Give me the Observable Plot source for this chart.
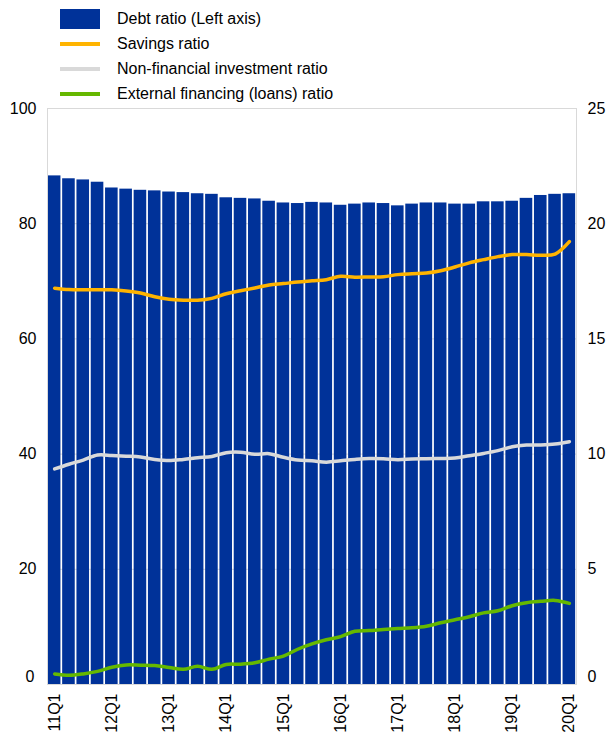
<!DOCTYPE html>
<html>
<head>
<meta charset="utf-8">
<script src="https://cdn.jsdelivr.net/npm/d3@7"></script>
<script src="https://cdn.jsdelivr.net/npm/@observablehq/plot@0.6"></script>
<style>
  body { margin: 0; background: #fff; font-family: "Liberation Sans", Arial, sans-serif; }
  #legend { position: relative; height: 100px; width: 609px; }
  .item { position: absolute; left: 0; height: 24px; width: 609px; }
  .sw { position: absolute; left: 60px; }
  .lab { position: absolute; left: 117px; font-size: 16px; color: #000; line-height: 20px; }
  svg { overflow: visible; }
</style>
</head>
<body>
<div id="legend"></div>
<div id="chart"></div>
<script>
const quarters = ["11Q1","11Q2","11Q3","11Q4","12Q1","12Q2","12Q3","12Q4","13Q1","13Q2","13Q3","13Q4",
  "14Q1","14Q2","14Q3","14Q4","15Q1","15Q2","15Q3","15Q4","16Q1","16Q2","16Q3","16Q4",
  "17Q1","17Q2","17Q3","17Q4","18Q1","18Q2","18Q3","18Q4","19Q1","19Q2","19Q3","19Q4","20Q1"];
const tickLabels = ["11Q1","12Q1","13Q1","14Q1","15Q1","16Q1","17Q1","18Q1","19Q1","20Q1"];

// Left axis (%)
const debtRatio = [88.3,87.8,87.6,87.2,86.2,86.0,85.8,85.7,85.5,85.4,85.2,85.1,84.5,84.4,84.3,83.9,83.6,83.5,83.7,83.6,
  83.2,83.4,83.6,83.5,83.1,83.4,83.6,83.6,83.4,83.4,83.8,83.8,83.9,84.4,84.9,85.1,85.2];
// Right axis (%)
const savingsRatio = [17.2,17.14,17.13,17.13,17.13,17.08,16.99,16.83,16.72,16.68,16.68,16.76,16.96,17.09,17.21,17.34,17.4,17.47,17.52,17.57,
  17.72,17.68,17.69,17.7,17.79,17.83,17.86,17.96,18.12,18.3,18.44,18.57,18.66,18.66,18.63,18.68,19.22];
const nonFinInvRatio = [9.36,9.56,9.74,9.96,9.94,9.91,9.87,9.77,9.72,9.77,9.84,9.9,10.06,10.08,9.99,10.02,9.86,9.74,9.71,9.65,
  9.71,9.77,9.81,9.8,9.76,9.79,9.8,9.81,9.83,9.93,10.03,10.15,10.32,10.39,10.4,10.44,10.54];
const extFinRatio = [0.46,0.4,0.46,0.57,0.75,0.85,0.84,0.82,0.74,0.66,0.79,0.66,0.87,0.88,0.94,1.1,1.23,1.53,1.76,1.94,
  2.08,2.31,2.34,2.39,2.43,2.46,2.53,2.68,2.81,2.94,3.11,3.2,3.42,3.55,3.61,3.65,3.52];

const leftTicks = [0,20,40,60,80,100];
const rightTicks = [0,5,10,15,20,25];

const seriesNames = ["Debt ratio (Left axis)","Savings ratio","Non-financial investment ratio","External financing (loans) ratio"];
const colors = ["#003299","#FFB400","#D9D9D9","#65B800"];

// Legend
const legend = document.getElementById("legend");
seriesNames.forEach((name, i) => {
  const item = document.createElement("div");
  item.className = "item";
  const cy = 19 + i * 25;
  item.style.top = (cy - 12) + "px";
  const sw = document.createElement("div");
  sw.className = "sw";
  if (i === 0) { sw.style.top = "2px"; sw.style.width = "40px"; sw.style.height = "20px"; }
  else { sw.style.top = "10px"; sw.style.width = "40px"; sw.style.height = "4px"; }
  sw.style.background = colors[i];
  const lab = document.createElement("div");
  lab.className = "lab";
  lab.style.top = "2px";
  lab.textContent = name;
  item.appendChild(sw); item.appendChild(lab);
  legend.appendChild(item);
});

const bars = quarters.map((q, i) => ({q, v: debtRatio[i]}));
const lines = [];
[[savingsRatio, seriesNames[1]], [nonFinInvRatio, seriesNames[2]], [extFinRatio, seriesNames[3]]].forEach(([arr, name]) => {
  quarters.forEach((q, i) => lines.push({q, v: arr[i], s: name}));
});
const ratio = 100 / 25;

const chart = Plot.plot({
  width: 609,
  height: 635,
  marginTop: 8,
  marginBottom: 51,
  marginLeft: 47,
  marginRight: 33,
  style: {fontFamily: "Liberation Sans, Arial, sans-serif", fontSize: "16px", color: "#000", overflow: "visible"},
  x: {type: "band", domain: quarters, paddingInner: 0.12, paddingOuter: 0.06, align: 0.5, round: false},
  y: {domain: [0, 100]},
  color: {domain: seriesNames.slice(1), range: colors.slice(1)},
  marks: [
    Plot.gridY(leftTicks.filter(d => d > 0 && d < 100), {stroke: "#d9d9d9", strokeOpacity: 1}),
    Plot.barY(bars, {x: "q", y: "v", fill: colors[0]}),
    Plot.line(lines, {x: "q", y: d => d.v * ratio, z: "s", stroke: "s", strokeWidth: 3.5, curve: "catmull-rom"}),
    Plot.frame({stroke: "#d9d9d9"}),
    Plot.axisY(leftTicks.filter(d => d > 0), {anchor: "left", tickSize: 0, tickPadding: 11, fontSize: 16, label: null}),
    Plot.axisY([0], {anchor: "left", tickSize: 0, tickPadding: 13, fontSize: 16, label: null, dy: -8}),
    Plot.axisY(rightTicks.filter(d => d > 0).map(d => d * ratio), {anchor: "right", tickSize: 0, tickPadding: 11, fontSize: 16, label: null, tickFormat: d => d / ratio}),
    Plot.axisY([0], {anchor: "right", tickSize: 0, tickPadding: 11, fontSize: 16, label: null, dy: -8, tickFormat: d => d / ratio}),
    Plot.axisX(tickLabels, {anchor: "bottom", tickSize: 0, tickPadding: 9, tickRotate: -90, fontSize: 16, label: null})
  ]
});
document.getElementById("chart").appendChild(chart);
</script>
</body>
</html>
